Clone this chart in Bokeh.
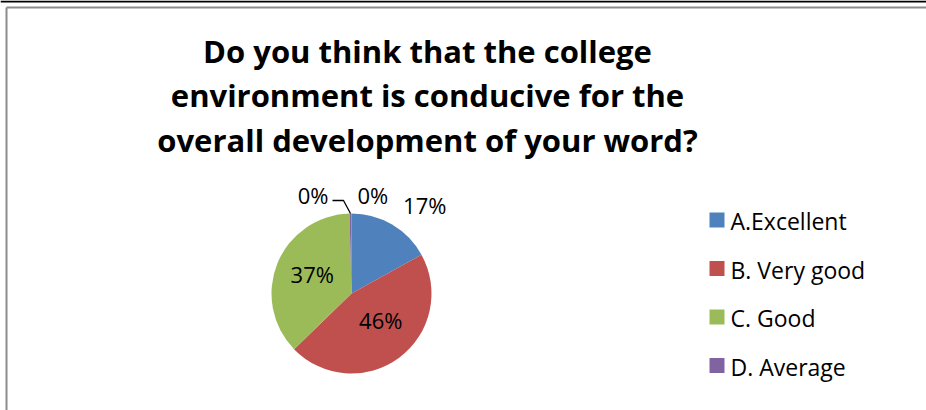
import math
from bokeh.plotting import figure
from bokeh.models import Range1d
from bokeh.core.properties import value
from bokeh.embed import file_html
from bokeh.resources import INLINE

# ---- data ----
categories = ["A.Excellent", "B. Very good", "C. Good", "D. Average", "E."]
shares = [17, 46, 37, 0.4, 0]
pct_labels = ["17%", "46%", "37%", "0%", "0%"]
legend_items = ["A.Excellent", "B. Very good", "C. Good", "D. Average"]
colors = ["#4F81BD", "#C0504D", "#9BBB59", "#8064A2", "#4BACC6"]
title_lines = ["Do you think that the college",
               "environment is conducive for the",
               "overall development of your word?"]

W, H = 926, 410
FONT = "Open Sans"

def Y(sy):
    return H - sy

p = figure(width=W, height=H, output_backend="svg", toolbar_location=None,
           x_range=Range1d(0, W), y_range=Range1d(0, H), min_border=0,
           background_fill_color="white", border_fill_color="white")
p.axis.visible = False
p.grid.visible = False
p.outline_line_color = None

# frame lines
p.segment(x0=[0], y0=[Y(1)], x1=[W], y1=[Y(1)], line_color="black", line_width=2)
p.segment(x0=[6], y0=[Y(7)], x1=[W], y1=[Y(7)], line_color="#8c8c8c", line_width=2)
p.segment(x0=[6], y0=[Y(7)], x1=[6], y1=[0], line_color="#8c8c8c", line_width=2)

# title
for i, line in enumerate(title_lines):
    p.text(x=[427], y=[Y(50 + 44.5 * i)], text=[line], text_font=value(FONT),
           text_font_style="bold", text_font_size="31px", text_align="center",
           text_baseline="middle", text_color="black")

# pie
cx, cy, r = 351, Y(293), 80
total = sum(shares)
starts, ends, mids = [], [], []
a = math.pi / 2
for s in shares:
    da = 2 * math.pi * s / total
    starts.append(a)
    ends.append(a - da)
    mids.append(a - da / 2)
    a -= da
idx = [i for i, s in enumerate(shares) if s > 0]
p.wedge(x=[cx] * len(idx), y=[cy] * len(idx), radius=r,
        start_angle=[ends[i] for i in idx], end_angle=[starts[i] for i in idx],
        fill_color=[colors[i] for i in idx], line_color=None)

# data labels
def rim(ang, f):
    return cx + f * r * math.cos(ang), cy + f * r * math.sin(ang)

lab_fs = "22px"
# inside labels (B, C)
for k, (dx, dy) in ((1, (4, 8)), (2, (0, 3))):
    x, y = rim(mids[k], 0.53)
    p.text(x=[x + dx], y=[y + dy], text=[pct_labels[k]], text_font=value(FONT),
           text_font_size=lab_fs, text_align="center", text_baseline="middle",
           text_color="black")
# A outside
x, y = rim(mids[0], 1.0)
p.text(x=[x + 11], y=[Y(204)], text=[pct_labels[0]], text_font=value(FONT),
       text_font_size=lab_fs, text_align="left", text_baseline="middle",
       text_color="black")
# D with leader line
x, y = rim(mids[3], 1.0)
p.line(x=[x, x - 7, x - 18], y=[y, y + 13, y + 13], line_color="black", line_width=1.3)
p.text(x=[x - 22], y=[Y(194)], text=[pct_labels[3]], text_font=value(FONT),
       text_font_size=lab_fs, text_align="right", text_baseline="middle",
       text_color="black")
# E at top
x, y = rim(mids[4], 1.0)
p.text(x=[x + 6], y=[Y(194)], text=[pct_labels[4]], text_font=value(FONT),
       text_font_size=lab_fs, text_align="left", text_baseline="middle",
       text_color="black")

# legend
for i, name in enumerate(legend_items):
    sy = 219.5 + 48.5 * i
    p.rect(x=[716.5], y=[Y(sy)], width=15, height=15, fill_color=colors[i], line_color=None)
    p.text(x=[730], y=[Y(sy + 1)], text=[name], text_font=value(FONT),
           text_font_size="23px", text_align="left", text_baseline="middle",
           text_color="black")

open("out.html", "w").write(file_html(p, INLINE))
